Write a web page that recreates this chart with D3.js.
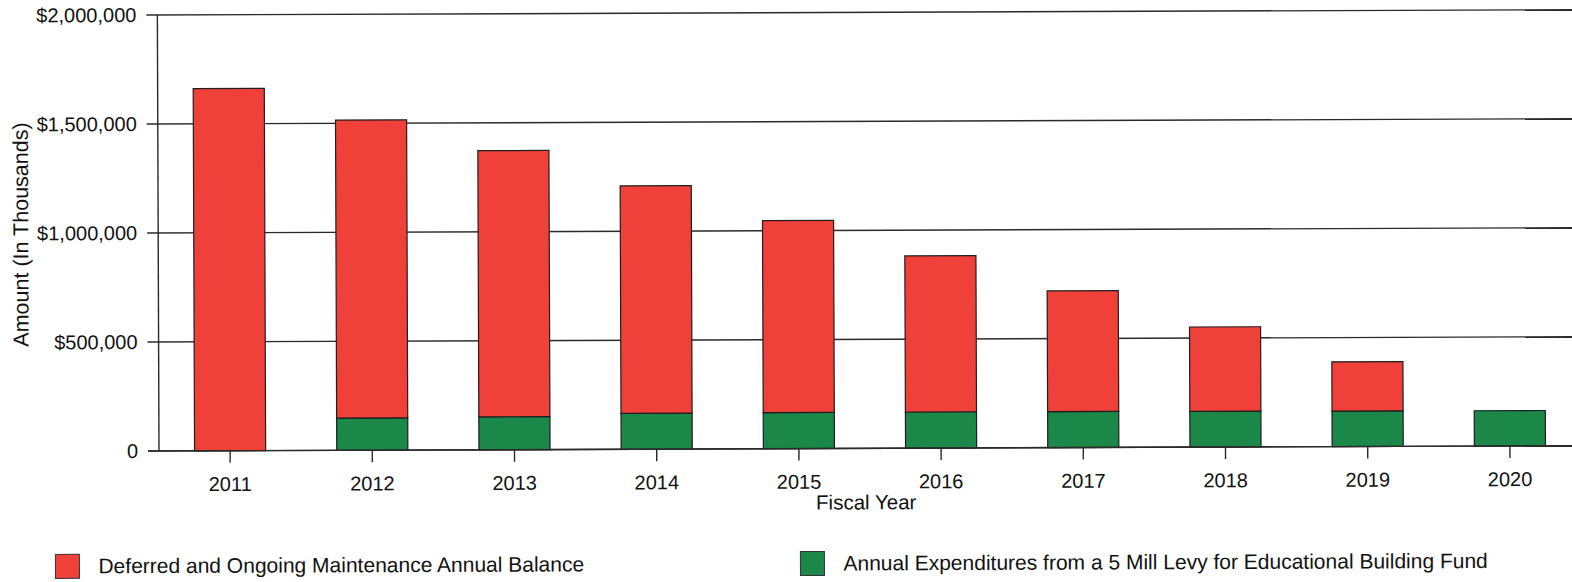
<!DOCTYPE html>
<html>
<head>
<meta charset="utf-8">
<script src="https://cdn.jsdelivr.net/npm/d3@7"></script>
<style>
  html, body { margin: 0; padding: 0; background: #fff; }
  svg { display: block; font-family: "Liberation Sans", Arial, sans-serif; }
</style>
</head>
<body>
<svg id="chart" width="1572" height="582"></svg>
<script>
// ---- data ----
const years = ["2011", "2012", "2013", "2014", "2015", "2016", "2017", "2018", "2019", "2020"];
const maintenanceBalance = [1662000, 1367000, 1221000, 1043000, 880000, 716000, 554000, 387000, 226000, 0];
const levyExpenditures = [0, 148000, 151000, 165000, 166000, 166000, 165000, 164000, 163000, 162000];
const yTickValues = [0, 500000, 1000000, 1500000, 2000000];
const yTickLabels = ["0", "$500,000", "$1,000,000", "$1,500,000", "$2,000,000"];
const seriesNames = ["Deferred and Ongoing Maintenance Annual Balance",
                     "Annual Expenditures from a 5 Mill Levy for Educational Building Fund"];
const yTitle = "Amount (In Thousands)";
const xTitle = "Fiscal Year";

// ---- layout ----
const axisX = 159, zeroY = 451, topY = 15, plotRight = 1581;
const red = "#f0403a", green = "#1b8749";

const svg = d3.select("#chart");
// the source is a slightly tilted scan
const root = svg.append("g").attr("transform", `rotate(-0.215, ${axisX}, ${zeroY})`);

const x = d3.scaleBand().domain(years).range([axisX, plotRight]).paddingInner(0.5).paddingOuter(0.25);
const y = d3.scaleLinear().domain([0, 2000000]).range([zeroY, topY]);

const rows = years.map((yr, i) => ({ year: yr, levy: levyExpenditures[i], maintenance: maintenanceBalance[i] }));
const stack = d3.stack().keys(["levy", "maintenance"]);
const stacked = stack(rows);
const colorOf = { levy: green, maintenance: red };

// gridlines
root.append("g").selectAll("line").data(yTickValues).join("line")
  .attr("x1", axisX - 11).attr("x2", plotRight + 20)
  .attr("y1", d => y(d)).attr("y2", d => y(d))
  .attr("stroke", "#2a2a2a").attr("stroke-width", 1.4);

// y axis vertical line
root.append("line").attr("x1", axisX).attr("x2", axisX)
  .attr("y1", y(2000000)).attr("y2", y(0))
  .attr("stroke", "#2a2a2a").attr("stroke-width", 1.4);

// bars
stacked.forEach(s => {
  root.append("g").selectAll("rect").data(s.filter(d => d[1] - d[0] > 0)).join("rect")
    .attr("x", d => x(d.data.year))
    .attr("width", x.bandwidth())
    .attr("y", d => y(d[1]))
    .attr("height", d => y(d[0]) - y(d[1]))
    .attr("fill", colorOf[s.key])
    .attr("stroke", "#1e1e1e").attr("stroke-width", 1.2);
});

// redraw baseline on top
root.append("line").attr("x1", axisX - 11).attr("x2", plotRight + 20)
  .attr("y1", y(0)).attr("y2", y(0)).attr("stroke", "#2a2a2a").attr("stroke-width", 1.4);

// y axis labels
const yAxis = d3.axisLeft(y).tickValues(yTickValues)
  .tickFormat((d, i) => yTickLabels[i]).tickSize(0).tickPadding(10);
const gy = root.append("g").attr("transform", `translate(${axisX - 11},0)`).call(yAxis);
gy.select(".domain").remove();
gy.selectAll("text").attr("font-size", 20).attr("fill", "#111")
  .attr("font-family", "'Liberation Sans', Arial, sans-serif");

// x axis
const xAxis = d3.axisBottom(x).tickSize(12).tickPadding(14);
const gx = root.append("g").attr("transform", `translate(0,${zeroY})`).call(xAxis);
gx.select(".domain").remove();
gx.selectAll(".tick line").attr("stroke", "#2a2a2a").attr("stroke-width", 1.4);
gx.selectAll("text").attr("font-size", 20).attr("fill", "#111")
  .attr("font-family", "'Liberation Sans', Arial, sans-serif");

// axis titles
root.append("text").attr("x", 866).attr("y", 512).attr("text-anchor", "middle")
  .attr("font-size", 20.5).attr("fill", "#111").text(xTitle);
root.append("text").attr("transform", "translate(29,234) rotate(-90)")
  .attr("text-anchor", "middle").attr("font-size", 21.5).attr("fill", "#111").text(yTitle);

// legend
const legend = [
  { name: seriesNames[0], color: red, lx: 55 },
  { name: seriesNames[1], color: green, lx: 800 }
];
const lg = root.append("g").selectAll("g").data(legend).join("g")
  .attr("transform", d => `translate(${d.lx},554)`);
lg.append("rect").attr("width", 24).attr("height", 24)
  .attr("fill", d => d.color).attr("stroke", "#333").attr("stroke-width", 1);
lg.append("text").attr("x", 43).attr("y", 19).attr("font-size", 21).attr("fill", "#111")
  .text(d => d.name);
</script>
</body>
</html>
